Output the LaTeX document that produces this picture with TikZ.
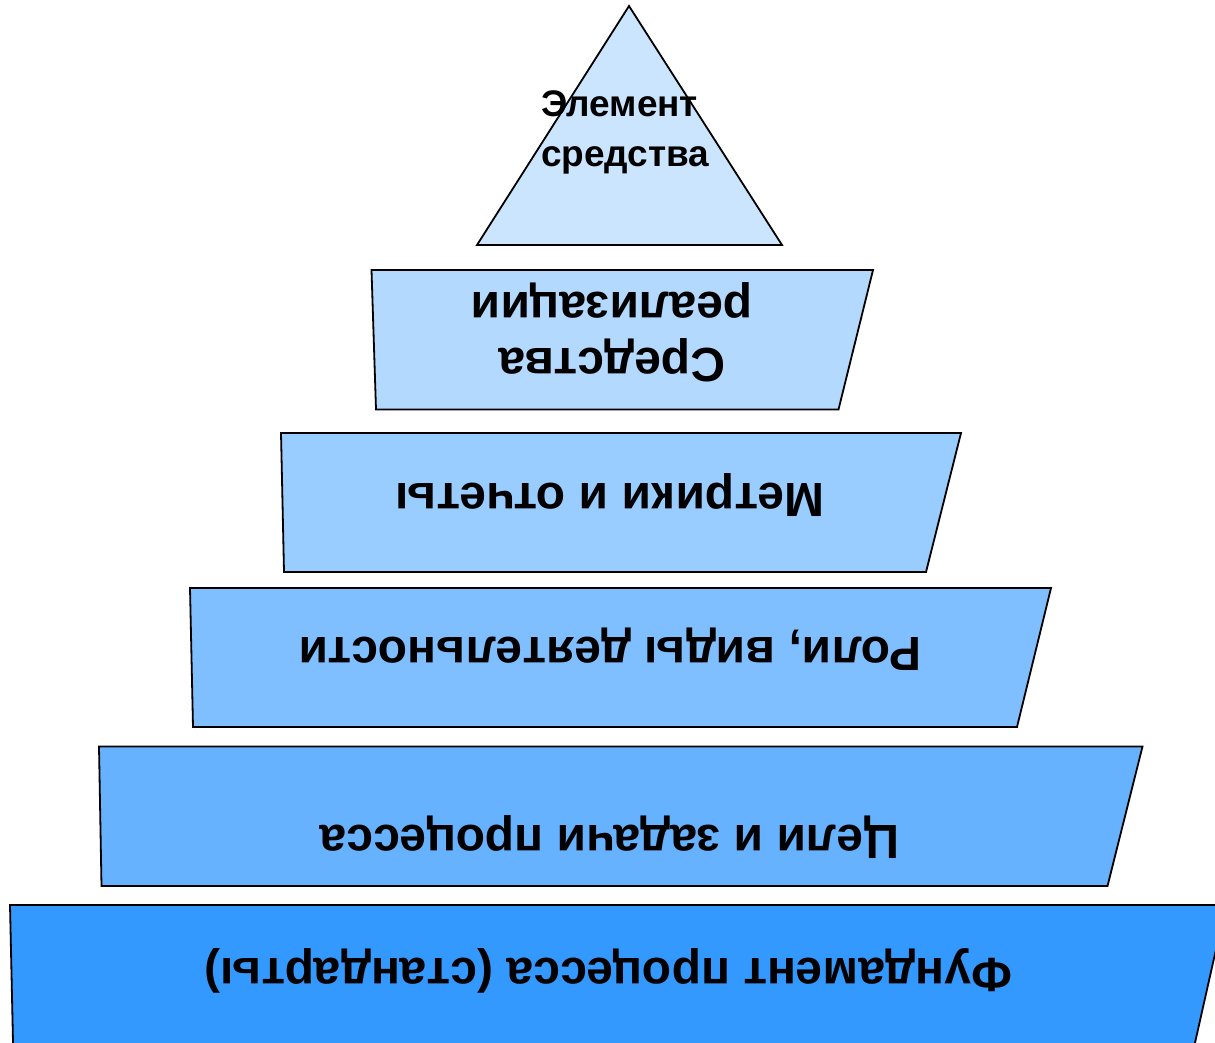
\documentclass[tikz,border=0pt]{standalone}
\usepackage{fontspec}
\setmainfont{Liberation Sans}
\definecolor{c0}{HTML}{CCE5FF}
\definecolor{c1}{HTML}{B3D9FF}
\definecolor{c2}{HTML}{99CCFF}
\definecolor{c3}{HTML}{80BFFF}
\definecolor{c4}{HTML}{66B2FF}
\definecolor{c5}{HTML}{3399FF}
\begin{document}
\begin{tikzpicture}[x=1pt,y=-1pt,
  layer/.style={draw=black, line width=1.8pt, line join=miter},
  lbl/.style={font=\bfseries\fontsize{48}{56}\selectfont, rotate=180, anchor=base, inner sep=0pt, align=center},
  toplbl/.style={font=\bfseries\fontsize{37}{50}\selectfont, anchor=base west, inner sep=0pt, align=left}]
\useasboundingbox (0,0) rectangle (1215,1043);
\clip (0,0) rectangle (1215,1043);
% layers
\path[layer, fill=c0] (629,6) -- (782,245) -- (477,245) -- cycle;
\path[layer, fill=c1] (371.5,270) -- (873,270) -- (838.5,409.5) -- (376,409.5) -- cycle;
\path[layer, fill=c2] (281,433) -- (961,433) -- (926,572) -- (284,572) -- cycle;
\path[layer, fill=c3] (190,588) -- (1051,588) -- (1017,727) -- (193,727) -- cycle;
\path[layer, fill=c4] (99,746.5) -- (1142.5,746.5) -- (1107.5,886) -- (101.5,886) -- cycle;
\path[layer, fill=c5] (10,905) -- (1226,905) -- (1190,1065) -- (13.5,1065) -- cycle;
% labels
\node[toplbl] (t0) at (541,167) {Элемент\\средства};
\node[lbl] (t1) at (612,292) {Средства\\реализации};
\node[lbl] (t2) at (610,483) {Метрики и отчеты};
\node[lbl] (t3) at (610,637) {Роли, виды деятельности};
\node[lbl] (t4) at (609.5,825) {Цели и задачи процесса};
\node[lbl] (t5) at (608.5,958) {Фундамент процесса (стандарты)};
\end{tikzpicture}
\end{document}
